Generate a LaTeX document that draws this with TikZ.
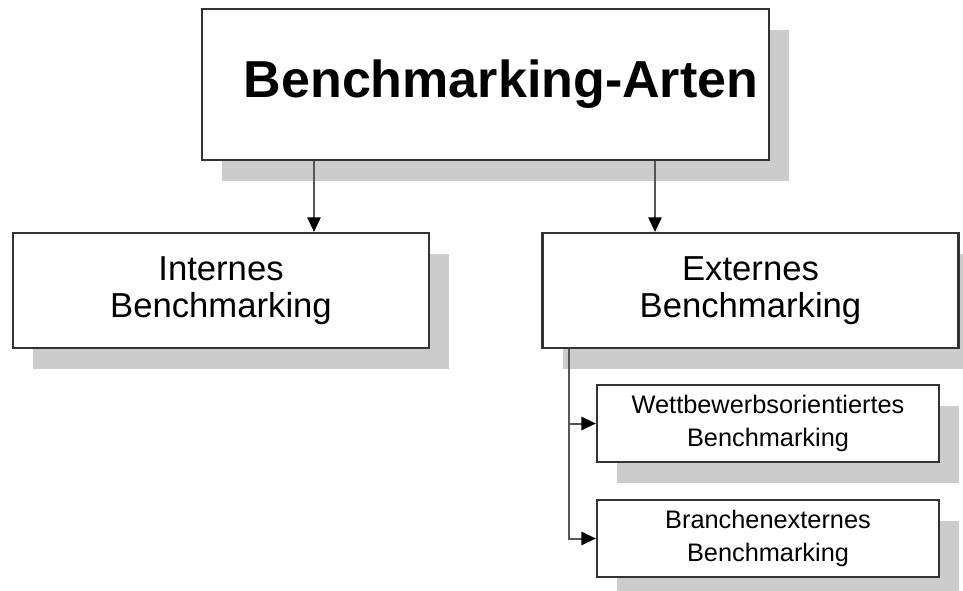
\documentclass[tikz,border=0pt]{standalone}
\usepackage{fontspec}
\setmainfont{Liberation Sans}
\usetikzlibrary{arrows.meta,shadows,calc}
\definecolor{frame}{HTML}{333333}
\definecolor{shade}{HTML}{CCCCCC}
\definecolor{wire}{HTML}{555555}
\begin{document}
\begin{tikzpicture}[x=0.75pt,y=-0.75pt,
  box/.style={draw=frame, line width=1.6pt, fill=white, inner sep=0pt, align=center,
    drop shadow={shadow xshift=15pt, shadow yshift=-15.75pt, fill=shade, opacity=1}},
  bigbox/.style={box, minimum width=312pt, minimum height=86.25pt,
    font=\fontsize{26}{27.75}\selectfont},
  smallbox/.style={box, minimum width=256.5pt, minimum height=57.75pt,
    font=\fontsize{19}{24.75}\selectfont},
  link/.style={draw=wire, line width=1.5pt,
    -{Triangle[length=11pt,width=10pt,color=black]}}]
\useasboundingbox (0,0) rectangle (963,591);

% boxes
\node[box, font=\bfseries\fontsize{39}{44}\selectfont, text width=409pt, align=right,
  inner xsep=8pt, minimum height=113.25pt] (top) at (485.5,84.5) {Benchmarking-Arten};
\node[bigbox] (int) at (221,290.5) {Internes\\Benchmarking};
\node[bigbox] (ext) at (750.5,290.5) {Externes\\Benchmarking};
\node[smallbox] (wb) at (768,423.5) {Wettbewerbsorientiertes\\Benchmarking};
\node[smallbox] (br) at (768,538.5) {Branchenexternes\\Benchmarking};

% connector columns
\coordinate (c1) at (314,0);
\coordinate (c2) at (655,0);
\coordinate (c3) at (569,0);

% connectors
\draw[link] (top.south -| c1) -- (int.north -| c1);
\draw[link] (top.south -| c2) -- (ext.north -| c2);
\draw[link] (ext.south -| c3) |- (wb.west);
\draw[link] (ext.south -| c3) |- (br.west);
\end{tikzpicture}
\end{document}
